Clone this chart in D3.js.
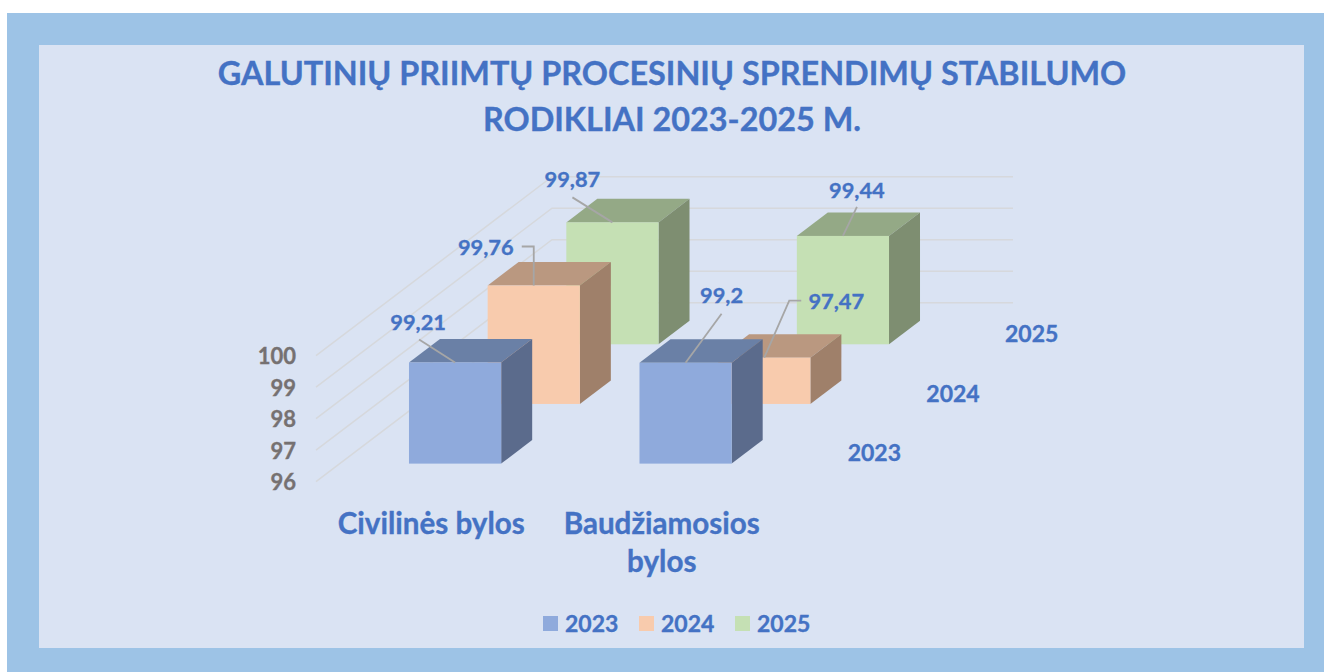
<!DOCTYPE html>
<html><head><meta charset="utf-8">
<style>html,body{margin:0;padding:0;background:#fff}svg{display:block}text{font-family:Lato,"Open Sans",sans-serif;font-weight:700;stroke:currentColor;stroke-width:0.35px}</style>
<script src="https://cdn.jsdelivr.net/npm/d3@7/dist/d3.min.js"></script>
</head><body><svg id="c" width="1324" height="672"></svg>
<script>
const titleLines = ["GALUTINIŲ PRIIMTŲ PROCESINIŲ SPRENDIMŲ STABILUMO", "RODIKLIAI 2023-2025 M."];
const categories = ["Civilinės bylos", "Baudžiamosios bylos"];
const categoryLines = [["Civilinės bylos"], ["Baudžiamosios", "bylos"]];
const seriesNames = ["2023", "2024", "2025"];
const values2023 = [99.21, 99.2];
const values2024 = [99.76, 97.47];
const values2025 = [99.87, 99.44];
const tickValues = [96, 97, 98, 99, 100];
const seriesValues = [values2023, values2024, values2025];

// styles and layout, kept apart from the data
const frontColors = ["#8FAADC", "#F8CBAD", "#C5E0B4"];
const topColors = ["#6A80A6", "#BA9880", "#94A986"];
const sideColors = ["#5B6B8C", "#9F806A", "#7E8E71"];
const leaderOffsets = [ // [series][category]: polyline points relative to the bar's front-top centre, then label centre
  [{pts:[[-36,-23],[0,0]], lab:[-37,-40]}, {pts:[[36,-49],[0,0]], lab:[36,-67]}],
  [{pts:[[-12,-39],[0,-39],[0,0]], lab:[-48,-38]}, {pts:[[37,-57],[25,-57],[0,0]], lab:[72,-56]}],
  [{pts:[[-40,-25],[0,0]], lab:[-40,-43]}, {pts:[[14,-29],[0,0]], lab:[14,-46]}]
];

const svg = d3.select("#c");
const W = 1324, H = 672;
const floorX0 = 316, floorX1 = 777, floorY = 481.7, depthDX = 236, depthDY = -179;

const y = d3.scaleLinear().domain([96, 100]).range([floorY, 355.7]);
const x = d3.scaleBand().domain(categories).range([floorX0, floorX1]).paddingInner(0.6).paddingOuter(0.3);
const z = d3.scaleBand().domain(seriesNames).range([0, 1]).paddingInner(0.606).paddingOuter(0.303);
const px = d => depthDX * d, py = d => depthDY * d;

svg.append("rect").attr("x", 7).attr("y", 13).attr("width", W - 7).attr("height", H - 13).attr("fill", "#9DC3E6");
svg.append("rect").attr("x", 39).attr("y", 45).attr("width", 1265).attr("height", 603).attr("fill", "#DAE3F3");

// title
svg.selectAll("text.title").data(titleLines).join("text").attr("class", "title")
  .attr("x", 672).attr("y", (d, i) => 85 + i * 46).attr("text-anchor", "middle")
  .attr("font-size", 32.4).attr("fill", "#4472C4").style("color", "#4472C4").text(d => d);

// grid: side wall and back wall
const grid = svg.append("g").attr("fill", "none").attr("stroke", "#D6D8DC").attr("stroke-width", 1.5);
grid.selectAll("path").data(tickValues).join("path")
  .attr("d", t => d3.line()([[floorX0, y(t)], [floorX0 + px(1), y(t) + py(1)], [floorX1 + px(1), y(t) + py(1)]]));

// value axis
const axisG = svg.append("g").attr("transform", "translate(296,1)")
  .call(d3.axisLeft(y).tickValues(tickValues).tickSize(0).tickPadding(0).tickFormat(d3.format("d")));
axisG.select(".domain").remove();
axisG.selectAll("text").attr("font-size", 22).attr("fill", "#767171").style("color", "#767171").style("font-family", "Lato").style("font-weight", 700);

// bars, back to front
const bars = [];
seriesNames.forEach((s, si) => categories.forEach((c, ci) => bars.push({s, si, c, ci, v: seriesValues[si][ci]})));
const barG = svg.append("g");
const ordered = bars.slice().sort((a, b) => b.si - a.si || a.ci - b.ci);
const dw = px(z.bandwidth()), dh = py(z.bandwidth());
ordered.forEach(b => {
  const d = z(b.s);
  const l = x(b.c) + px(d), r = l + x.bandwidth();
  const bot = y(96) + py(d), top = y(b.v) + py(d);
  const g = barG.append("g");
  g.append("path").attr("fill", topColors[b.si])
    .attr("d", d3.line()([[l, top], [r, top], [r + dw, top + dh], [l + dw, top + dh]]) + "Z");
  g.append("path").attr("fill", sideColors[b.si])
    .attr("d", d3.line()([[r, top], [r + dw, top + dh], [r + dw, bot + dh], [r, bot]]) + "Z");
  g.append("rect").attr("x", l).attr("y", top).attr("width", r - l).attr("height", bot - top).attr("fill", frontColors[b.si]);
  b.ax = (l + r) / 2; b.ay = top;
});

// data labels with leader lines
bars.forEach(b => {
  const o = leaderOffsets[b.si][b.ci];
  svg.append("path").attr("fill", "none").attr("stroke", "#A6A6A6").attr("stroke-width", 1.8)
    .attr("d", d3.line()(o.pts.map(p => [b.ax + p[0], b.ay + p[1]])));
  svg.append("text").attr("x", b.ax + o.lab[0]).attr("y", b.ay + o.lab[1]).attr("dy", "0.35em")
    .attr("text-anchor", "middle").attr("font-size", 21.8).attr("fill", "#4472C4").style("color", "#4472C4")
    .text(String(b.v).replace(".", ","));
});

// depth axis labels
seriesNames.forEach(s => {
  const d = z(s) + z.bandwidth() / 2;
  svg.append("text").attr("x", floorX1 + px(d) + 58).attr("y", floorY + py(d) + 1.5).attr("dy", "0.35em")
    .attr("text-anchor", "middle").attr("font-size", 23).attr("fill", "#4472C4").style("color", "#4472C4").text(s);
});

// category labels
categories.forEach((c, i) => {
  categoryLines[i].forEach((line, j) => {
    svg.append("text").attr("x", x(c) + x.bandwidth() / 2).attr("y", 524 + j * 38).attr("dy", "0.35em")
      .attr("text-anchor", "middle").attr("font-size", 29.6).attr("fill", "#4472C4").style("color", "#4472C4").text(line);
  });
});

// legend
const legendX = d3.scalePoint().domain(seriesNames).range([543, 735]);
seriesNames.forEach((s, i) => {
  svg.append("rect").attr("x", legendX(s)).attr("y", 616).attr("width", 15).attr("height", 15).attr("fill", frontColors[i]);
  svg.append("text").attr("x", legendX(s) + 22).attr("y", 624).attr("dy", "0.35em")
    .attr("font-size", 23).attr("fill", "#4472C4").style("color", "#4472C4").text(s);
});
</script></body></html>
